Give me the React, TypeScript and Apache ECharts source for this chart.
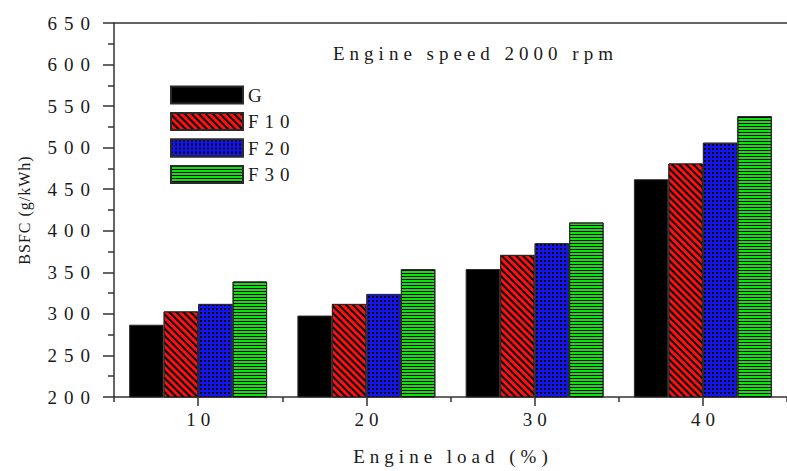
import React, { useEffect, useRef } from "react";
import * as echarts from "echarts";

const categories = ["10", "20", "30", "40"];
const seriesNames = ["G", "F10", "F20", "F30"];
const gValues = [287, 298, 354, 462];
const f10Values = [303, 312, 371, 481];
const f20Values = [312, 324, 385, 506];
const f30Values = [339, 354, 410, 538];
const yTicks = { min: 200, max: 650, interval: 50 };
const titleText = "Engine speed 2000 rpm";
const xName = "Engine load (%)";
const yName = "BSFC (g/kWh)";

const SERIF = "'Liberation Serif', 'Times New Roman', serif";
const TXT = "#1a1a1a";

export default function App() {
  const ref = useRef<HTMLDivElement>(null);
  useEffect(() => {
    if (!ref.current) return;
    const chart = echarts.init(ref.current, undefined, { renderer: "svg" });
    const border = { borderColor: "#2a2a2a", borderWidth: 1 };
    const fills = [
      { color: "#000000", decal: undefined as any },
      {
        color: "#ff1010",
        decal: { symbol: "rect", symbolSize: 1, color: "#000", dashArrayX: [1, 0], dashArrayY: [1.5, 2.5], rotation: Math.PI / 4 },
      },
      {
        color: "#1414f0",
        decal: { symbol: "rect", symbolSize: 1, color: "#000", dashArrayX: [2, 2], dashArrayY: [2, 2], rotation: 0 },
      },
      {
        color: "#10e010",
        decal: { symbol: "rect", symbolSize: 1, color: "#000", dashArrayX: [1, 0], dashArrayY: [1, 2], rotation: 0 },
      },
    ];
    const data = [gValues, f10Values, f20Values, f30Values];
    const option: any = {
      animation: false,
      backgroundColor: "#ffffff",
      textStyle: { fontFamily: SERIF },
      grid: { left: 114, top: 23, width: 680, height: 378, containLabel: false },
      legend: {
        orient: "vertical",
        left: 165,
        top: 80,
        padding: 5,
        itemWidth: 72,
        itemHeight: 17,
        itemGap: 6.5,
        icon: "rect",
        data: seriesNames,
        textStyle: { fontFamily: SERIF, fontSize: 19, color: TXT, lineHeight: 20 },
      },
      graphic: [
        {
          type: "text",
          left: 333,
          top: 44,
          style: { text: titleText, font: `19px ${SERIF}`, fill: TXT },
        },
      ],
      xAxis: [
        {
          type: "category",
          data: categories,
          position: "bottom",
          axisLine: { lineStyle: { color: "#333", width: 1.5 } },
          axisTick: { show: true, length: 5, lineStyle: { color: "#333", width: 1.5 } },
          axisLabel: { show: true, margin: 13, fontSize: 19, color: TXT, fontFamily: SERIF, padding: [0, 0, 0, 5] },
          name: xName,
          nameLocation: "middle",
          nameGap: 50,
          nameTextStyle: { fontSize: 19, color: TXT, fontFamily: SERIF, padding: [0, 0, 0, 5] },
        },
        {
          type: "category",
          data: categories,
          position: "bottom",
          axisLine: { show: false },
          axisTick: { show: true, alignWithLabel: true, length: 9, lineStyle: { color: "#333", width: 1.5 } },
          axisLabel: { show: false },
        },
        {
          type: "category",
          data: categories,
          position: "top",
          axisLine: { show: true, lineStyle: { color: "#333", width: 1.5 } },
          axisTick: { show: false },
          axisLabel: { show: false },
        },
      ],
      yAxis: {
        type: "value",
        min: yTicks.min,
        max: yTicks.max,
        interval: yTicks.interval,
        axisLine: { show: true, lineStyle: { color: "#333", width: 1.5 } },
        axisTick: { show: true, length: 11, lineStyle: { color: "#333", width: 1.5 } },
        minorTick: { show: true, splitNumber: 2, length: 6, lineStyle: { color: "#333", width: 1.5 } },
        splitLine: { show: false },
        axisLabel: { margin: 17, fontSize: 19, color: TXT, fontFamily: SERIF },
        name: yName,
        nameLocation: "middle",
        nameGap: 82,
        nameTextStyle: { fontSize: 16, color: TXT, fontFamily: SERIF },
      },
      series: seriesNames.map((name, i) => ({
        name,
        type: "bar",
        xAxisIndex: 0,
        data: data[i],
        barGap: "0%",
        barCategoryGap: "18%",
        itemStyle: { color: fills[i].color, decal: fills[i].decal, ...border },
        emphasis: { disabled: true },
      })),
    };
    chart.setOption(option);

    const spacing = () => {
      const root = ref.current;
      if (!root) return;
      root.querySelectorAll("text").forEach((t) => {
        const s = t.textContent || "";
        let ls = "5";
        if (s === yName) ls = "1";
        else if (/^\d{3}$/.test(s)) ls = "7";
        else if (seriesNames.includes(s)) ls = "6";
        else if (s === titleText) ls = "5";
        t.setAttribute("letter-spacing", ls);
      });
    };
    chart.on("finished", spacing);
    spacing();
    const tm = setTimeout(spacing, 50);
    return () => {
      clearTimeout(tm);
      chart.dispose();
    };
  }, []);
  return <div ref={ref} style={{ position: "absolute", left: 0, top: 0, width: 787, height: 471 }} />;
}
